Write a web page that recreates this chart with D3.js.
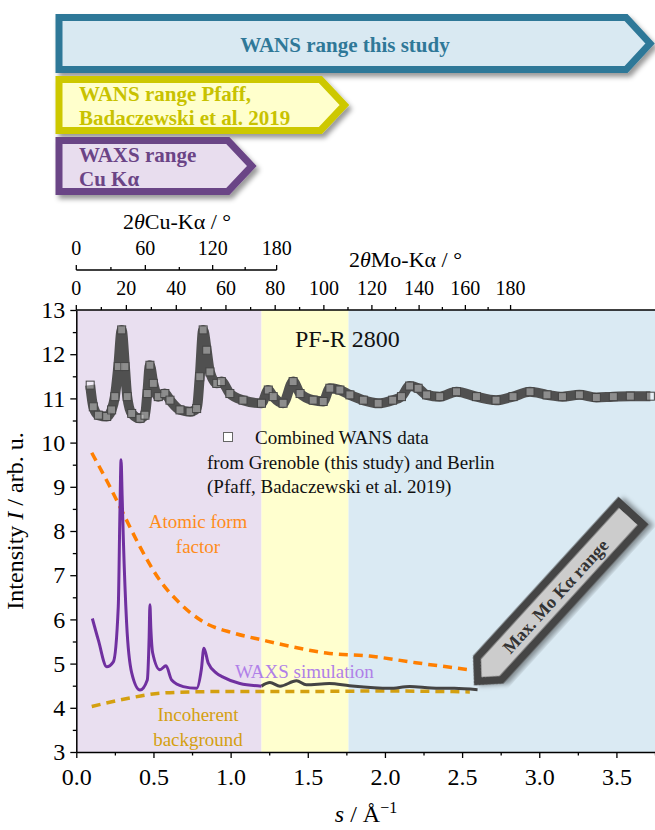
<!DOCTYPE html>
<html>
<head>
<meta charset="utf-8">
<script src="https://cdn.jsdelivr.net/npm/d3@7"></script>
<style>
body { margin: 0; background: #fff; }
svg { display: block; font-family: "Liberation Serif", "Times New Roman", serif; }
</style>
</head>
<body>
<svg id="chart" width="655" height="830"></svg>
<script>
// s ranges (1/Å) covered by each experiment
const regionEdges = [0, 1.2, 1.764, 3.75];
const regionColors = ["#e9dff0", "#ffffcf", "#daeaf3"];

// combined WANS data, PF-R 2800
const wansS = [0.09, 0.11, 0.143, 0.197, 0.229, 0.25, 0.272, 0.294, 0.315, 0.33, 0.359, 0.413, 0.445, 0.46, 0.477,
  0.499, 0.531, 0.574, 0.607, 0.672, 0.737, 0.78, 0.80, 0.822, 0.845, 0.866, 0.91, 0.94, 0.995, 1.08, 1.20,
  1.244, 1.276, 1.34, 1.405, 1.45, 1.535, 1.60, 1.643, 1.708, 1.773, 1.86, 1.956, 2.05, 2.107, 2.16, 2.215,
  2.27, 2.355, 2.464, 2.593, 2.72, 2.83, 2.94, 3.05, 3.15, 3.26, 3.37, 3.48, 3.59, 3.72];
const wansI = [11.30, 10.81, 10.62, 10.59, 10.74, 11.04, 11.72, 12.55, 11.72, 11.04, 10.66, 10.55, 10.62, 11.11, 11.75,
  11.34, 11.04, 11.11, 10.96, 10.74, 10.70, 10.77, 11.49, 12.55, 12.09, 11.60, 11.34, 11.38, 11.11, 10.96, 10.89,
  11.19, 11.04, 10.89, 11.38, 11.11, 10.96, 10.93, 11.23, 11.19, 11.08, 10.96, 10.89, 10.96, 11.04, 11.28, 11.23,
  11.08, 11.04, 11.15, 11.04, 10.96, 11.04, 11.15, 11.08, 11.04, 11.08, 11.02, 11.04, 11.05, 11.05];

// WAXS simulation (purple part, Cu range) and its continuation
const simS = [0.104, 0.143, 0.197, 0.24, 0.272, 0.283, 0.29, 0.297, 0.305, 0.326, 0.359, 0.413, 0.46, 0.472, 0.477,
  0.483, 0.495, 0.542, 0.581, 0.618, 0.693, 0.78, 0.81, 0.827, 0.855, 0.91, 0.948, 1.06, 1.2];
const simI = [6.02, 5.53, 4.93, 5.04, 6.29, 8.5, 9.61, 8.8, 7.8, 5.92, 4.79, 4.40, 4.63, 5.6, 6.33,
  5.8, 5.24, 4.86, 4.95, 4.63, 4.48, 4.44, 4.86, 5.35, 5.01, 4.78, 4.70, 4.55, 4.49];
const simTailS = [1.2, 1.255, 1.32, 1.427, 1.49, 1.64, 1.77, 2.03, 2.16, 2.3, 2.45, 2.6];
const simTailI = [4.49, 4.57, 4.49, 4.61, 4.52, 4.55, 4.50, 4.44, 4.48, 4.45, 4.44, 4.41];

// atomic form factor and incoherent background
const ffS = [0.1, 0.218, 0.315, 0.413, 0.54, 0.67, 0.82, 1.02, 1.21, 1.40, 1.62, 1.9, 2.2, 2.55];
const ffI = [9.77, 9.0, 8.32, 7.64, 6.89, 6.37, 5.95, 5.69, 5.53, 5.38, 5.24, 5.17, 5.02, 4.86];
const incS = [0.1, 0.33, 0.54, 0.76, 1.0, 1.5, 2.0, 2.55];
const incI = [4.03, 4.21, 4.33, 4.36, 4.37, 4.37, 4.38, 4.36];

// ticks
const xTicks = [0, 0.5, 1, 1.5, 2, 2.5, 3, 3.5];
const xMinor = [0.25, 0.75, 1.25, 1.75, 2.25, 2.75, 3.25, 3.75];
const yTicks = [3, 4, 5, 6, 7, 8, 9, 10, 11, 12, 13];
const yMinor = [3.5, 4.5, 5.5, 6.5, 7.5, 8.5, 9.5, 10.5, 11.5, 12.5];
const moTicks = [0, 20, 40, 60, 80, 100, 120, 140, 160, 180];
const moMinor = [10, 30, 50, 70, 90, 110, 130, 150, 170];
const cuTicks = [0, 60, 120, 180];
const cuMinor = [30, 90, 150];

const svg = d3.select("#chart");
const x = d3.scaleLinear().domain([0, 3.75]).range([76.3, 655]);
const y = d3.scaleLinear().domain([3, 13]).range([752, 310]);

const defs = svg.append("defs");
defs.append("filter").attr("id", "shadow").attr("x", "-10%").attr("y", "-20%").attr("width", "130%").attr("height", "150%")
  .append("feDropShadow").attr("dx", 3).attr("dy", 4).attr("stdDeviation", 2.5)
  .attr("flood-color", "#000").attr("flood-opacity", 0.4);
defs.append("clipPath").attr("id", "plotclip").append("rect")
  .attr("x", x(0)).attr("y", y(13)).attr("width", x(3.75) - x(0)).attr("height", y(3) - y(13));

// ---- range arrows at the top
const bands = [
  { lines: ["WANS range this study"], end: 3.75, top: 14, bot: 73, stroke: "#2f7898", fill: "#d9e9f2", color: "#2f7898", mid: true },
  { lines: ["WANS range Pfaff,", "Badaczewski et al. 2019"], end: 1.77, top: 76, bot: 134, stroke: "#cdc800", fill: "#ffffcc", color: "#c8c200" },
  { lines: ["WAXS range", "Cu K\u03b1"], end: 1.17, top: 137, bot: 195, stroke: "#6b4486", fill: "#e8ddee", color: "#6b4486" }
];
bands.forEach(b => {
  const L = 59, T = b.top + 3.5, B = b.bot - 3.5, tip = x(b.end) - 5, sh = tip - 24;
  svg.append("path")
    .attr("d", `M${L},${T}L${sh},${T}L${tip},${(T + B) / 2}L${sh},${B}L${L},${B}Z`)
    .attr("fill", b.fill).attr("stroke", b.stroke).attr("stroke-width", 7)
    .attr("filter", "url(#shadow)");
  const t = svg.append("text").attr("font-weight", "bold").attr("font-size", 21).attr("fill", b.color);
  b.lines.forEach((ln, i) => {
    t.append("tspan")
      .attr("x", b.mid ? 345 : 79)
      .attr("y", b.mid ? 52 : b.top + 25 + i * 24)
      .attr("text-anchor", b.mid ? "middle" : "start")
      .text(ln);
  });
});

// ---- background regions
svg.append("g").selectAll("rect").data(regionColors).join("rect")
  .attr("x", (d, i) => x(regionEdges[i]))
  .attr("width", (d, i) => x(regionEdges[i + 1]) - x(regionEdges[i]))
  .attr("y", y(13)).attr("height", y(3) - y(13))
  .attr("fill", d => d);

const plot = svg.append("g").attr("clip-path", "url(#plotclip)");

// combined WANS data: dense open squares forming a thick band
const wans = wansS.map((s, i) => [s, wansI[i]]);
plot.append("path").datum(wans)
  .attr("d", d3.line().x(d => x(d[0])).y(d => y(d[1])).curve(d3.curveMonotoneX))
  .attr("fill", "none").attr("stroke", "#505050").attr("stroke-width", 10).attr("stroke-linejoin", "round");
plot.append("g").selectAll("rect").data(wans).join("rect")
  .attr("x", d => x(d[0]) - 4).attr("y", d => y(d[1]) - 4)
  .attr("width", 8).attr("height", 8)
  .attr("fill", "#fff").attr("fill-opacity", 0.35)
  .attr("stroke", "#444").attr("stroke-width", 1);

const line = d3.line().x(d => x(d[0])).y(d => y(d[1])).curve(d3.curveMonotoneX);

plot.append("path").datum(incS.map((s, i) => [s, incI[i]]))
  .attr("d", line).attr("fill", "none").attr("stroke", "#d4a010")
  .attr("stroke-width", 3.5).attr("stroke-dasharray", "9,6");
plot.append("path").datum(ffS.map((s, i) => [s, ffI[i]]))
  .attr("d", line).attr("fill", "none").attr("stroke", "#ff7f00")
  .attr("stroke-width", 3.5).attr("stroke-dasharray", "9,6");
plot.append("path").datum(simTailS.map((s, i) => [s, simTailI[i]]))
  .attr("d", line).attr("fill", "none").attr("stroke", "#444").attr("stroke-width", 3);
plot.append("path").datum(simS.map((s, i) => [s, simI[i]]))
  .attr("d", line).attr("fill", "none").attr("stroke", "#7030a0").attr("stroke-width", 3)
  .attr("stroke-linejoin", "round");

// ---- in-plot labels
const notes = [
  { t: "Atomic form", x: 198, y: 528, c: "#ff8c1a", a: "middle" },
  { t: "factor", x: 198, y: 553, c: "#ff8c1a", a: "middle" },
  { t: "WAXS simulation", x: 235, y: 678, c: "#b07fe8", a: "start" },
  { t: "Incoherent", x: 198, y: 721, c: "#d4a010", a: "middle" },
  { t: "background", x: 198, y: 746, c: "#d4a010", a: "middle" },
  { t: "Combined WANS data", x: 255, y: 444, c: "#111", a: "start" },
  { t: "from Grenoble (this study) and Berlin", x: 207, y: 469, c: "#111", a: "start" },
  { t: "(Pfaff, Badaczewski et al. 2019)", x: 207, y: 493, c: "#111", a: "start" }
];
svg.append("g").selectAll("text").data(notes).join("text")
  .attr("x", d => d.x).attr("y", d => d.y).attr("fill", d => d.c)
  .attr("text-anchor", d => d.a).attr("font-size", 19).text(d => d.t);
svg.append("rect").attr("x", 223.5).attr("y", 432.5).attr("width", 9).attr("height", 9)
  .attr("fill", "#fff").attr("stroke", "#666").attr("stroke-width", 1);
svg.append("text").attr("x", 295).attr("y", 347).attr("font-size", 24).attr("fill", "#111").text("PF-R 2800");

// ---- "Max. Mo Kα range" pointer
const tipX = x(2.58), tipY = y(4.52);
const pg = svg.append("g").attr("transform", `translate(${tipX},${tipY}) rotate(-47.6)`);
pg.append("path")
  .attr("d", "M5,0L22,-16.5L232,-16.5L232,16.5L22,16.5Z")
  .attr("fill", "#cccccc").attr("stroke", "#444").attr("stroke-width", 8)
  .attr("filter", "url(#shadow)");
pg.append("text").attr("x", 120).attr("y", 0).attr("dy", "0.35em")
  .attr("text-anchor", "middle").attr("font-weight", "bold").attr("font-size", 18)
  .attr("fill", "#333").text("Max. Mo K\u03b1 range");

// ---- axes
function style(g) {
  g.selectAll("line").attr("stroke", "#000").attr("stroke-width", 1.3);
  g.selectAll("path.domain").attr("stroke", "#000").attr("stroke-width", 1.5);
  g.selectAll("text").attr("fill", "#000").attr("font-family", "Liberation Serif, serif");
}

const gx = svg.append("g").attr("transform", `translate(0,${y(3)})`)
  .call(d3.axisBottom(x).tickValues(xTicks).tickFormat(d3.format(".1f")).tickSize(6).tickPadding(10).tickSizeOuter(0));
gx.selectAll("text").attr("font-size", 24);
style(gx);
const gxm = svg.append("g").attr("transform", `translate(0,${y(3)})`)
  .call(d3.axisBottom(x).tickValues(xMinor).tickFormat("").tickSize(3.5));
gxm.select(".domain").remove();
style(gxm);

const gy = svg.append("g").attr("transform", `translate(${x(0)},0)`)
  .call(d3.axisLeft(y).tickValues(yTicks).tickSize(6).tickPadding(5).tickSizeOuter(0));
gy.selectAll("text").attr("font-size", 24);
style(gy);
const gym = svg.append("g").attr("transform", `translate(${x(0)},0)`)
  .call(d3.axisLeft(y).tickValues(yMinor).tickFormat("").tickSize(3.5));
gym.select(".domain").remove();
style(gym);

// top frame line
svg.append("line").attr("x1", x(0)).attr("x2", x(3.75)).attr("y1", y(13)).attr("y2", y(13))
  .attr("stroke", "#000").attr("stroke-width", 1.5);

// 2θ axes: position follows s of the given radiation (s at 180° = 2/λ)
const lamMo = 0.7107, lamCu = 1.5406;
const k = 0.15 * Math.PI / 180;
const twoTheta = (lam) => deg => x((2 / lam) * Math.sin(k * deg) / Math.sin(k * 180));
const moX = twoTheta(lamMo), cuX = twoTheta(lamCu);

function angleAxis(xf, major, minor, yPos) {
  const g = svg.append("g").attr("transform", `translate(0,${yPos})`);
  g.selectAll("line.mj").data(major).join("line").attr("class", "mj")
    .attr("x1", xf).attr("x2", xf).attr("y1", 0).attr("y2", -5);
  g.selectAll("line.mn").data(minor).join("line").attr("class", "mn")
    .attr("x1", xf).attr("x2", xf).attr("y1", 0).attr("y2", -3);
  g.selectAll("text").data(major).join("text")
    .attr("x", xf).attr("y", -15).attr("text-anchor", "middle").attr("font-size", 20).text(d => d);
  style(g);
  return g;
}
angleAxis(moX, moTicks, moMinor, y(13));
const gcu = angleAxis(cuX, cuTicks, cuMinor, 270);
gcu.append("line").attr("x1", cuX(0)).attr("x2", cuX(180)).attr("y1", 0).attr("y2", 0)
  .attr("stroke", "#000").attr("stroke-width", 1.3);

// axis titles
const th = svg.append("text").attr("x", 123).attr("y", 229).attr("font-size", 22);
th.append("tspan").text("2");
th.append("tspan").attr("font-style", "italic").text("\u03b8");
th.append("tspan").text("Cu-K\u03b1 / \u00b0");
const tm = svg.append("text").attr("x", 349).attr("y", 267).attr("font-size", 22);
tm.append("tspan").text("2");
tm.append("tspan").attr("font-style", "italic").text("\u03b8");
tm.append("tspan").text("Mo-K\u03b1 / \u00b0");

const xl = svg.append("text").attr("x", 366).attr("y", 822).attr("text-anchor", "middle").attr("font-size", 24);
xl.append("tspan").attr("font-style", "italic").text("s");
xl.append("tspan").text(" / \u00c5");
xl.append("tspan").attr("dy", -9).attr("font-size", 16).text("\u22121");

const yl = svg.append("text").attr("transform", "translate(23,521) rotate(-90)")
  .attr("text-anchor", "middle").attr("font-size", 24);
yl.append("tspan").text("Intensity ");
yl.append("tspan").attr("font-style", "italic").text("I");
yl.append("tspan").text(" / arb. u.");
</script>
</body>
</html>
